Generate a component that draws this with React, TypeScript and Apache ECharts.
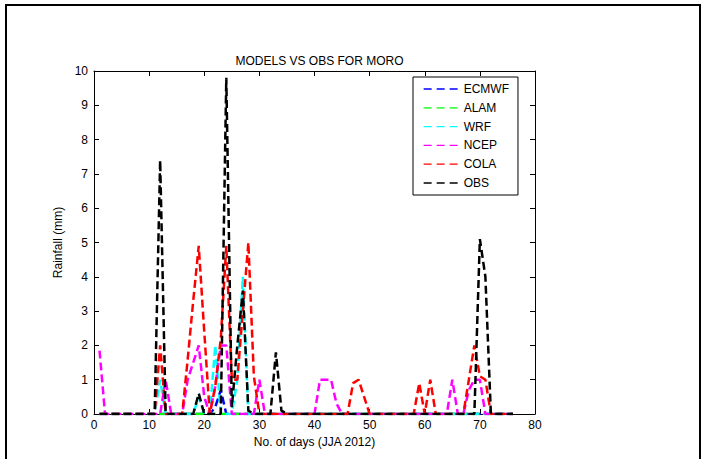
import React, { useEffect, useRef } from "react";
import * as echarts from "echarts";

const days = [
  1, 2, 3, 4, 5, 6, 7, 8, 9, 10, 11, 12, 13, 14, 15, 16, 17, 18, 19, 20,
  21, 22, 23, 24, 25, 26, 27, 28, 29, 30, 31, 32, 33, 34, 35, 36, 37, 38, 39, 40,
  41, 42, 43, 44, 45, 46, 47, 48, 49, 50, 51, 52, 53, 54, 55, 56, 57, 58, 59, 60,
  61, 62, 63, 64, 65, 66, 67, 68, 69, 70, 71, 72, 73, 74, 75, 76,
];

const seriesNames = ["ECMWF", "ALAM", "WRF", "NCEP", "COLA", "OBS"];
const seriesColors = ["#0000ff", "#00ff00", "#00ffff", "#ff00ff", "#ff0000", "#000000"];

// day:           1    2    3    4    5    6    7    8    9   10   11   12   13   14   15   16   17   18   19   20
const ecmwf = [   0,   0,   0,   0,   0,   0,   0,   0,   0,   0,   0,   0,   0,   0,   0,   0,   0,   0,   0,   0,
                  0, 0.2, 0.7,   0,   0,   0,   0,   0,   0,   0,   0,   0,   0,   0,   0,   0,   0,   0,   0,   0,
                  0,   0,   0,   0,   0,   0,   0,   0,   0,   0,   0,   0,   0,   0,   0,   0,   0,   0,   0,   0,
                  0,   0,   0,   0,   0,   0,   0,   0,   0,   0,   0,   0,   0,   0,   0,   0];
const alam = [    0,   0,   0,   0,   0,   0,   0,   0,   0,   0,   0,   0,   0,   0,   0,   0,   0,   0,   0,   0,
                  0,   0,   0,   0,   0,   0,   0,   0,   0,   0,   0,   0,   0,   0,   0,   0,   0,   0,   0,   0,
                  0,   0,   0,   0,   0,   0,   0,   0,   0,   0,   0,   0,   0,   0,   0,   0,   0,   0,   0,   0,
                  0,   0,   0,   0,   0,   0,   0,   0,   0,   0,   0,   0,   0,   0,   0,   0];
const wrf = [     0,   0,   0,   0,   0,   0,   0,   0,   0,   0,   0, 1.0,   0,   0,   0,   0,   0,   0, 0.5,   0,
                  0, 2.0,   0,   0,   0, 1.0, 4.0,   0,   0,   0,   0,   0,   0,   0,   0,   0,   0,   0,   0,   0,
                  0,   0,   0,   0,   0,   0,   0,   0,   0,   0,   0,   0,   0,   0,   0,   0,   0,   0,   0,   0,
                  0,   0,   0,   0,   0,   0,   0,   0,   0,   0,   0,   0,   0,   0,   0,   0];
const ncep = [ 1.85,   0,   0,   0,   0,   0,   0,   0,   0,   0,   0,   0, 1.0,   0,   0,   0, 1.0, 1.5, 2.0, 0.5,
                  0, 0.8, 2.0, 2.0,   0,   0,   0,   0,   0, 1.0,   0,   0,   0,   0,   0,   0,   0,   0,   0,   0,
                1.0, 1.0, 1.0, 0.3,   0,   0,   0,   0,   0,   0,   0,   0,   0,   0,   0,   0,   0,   0,   0,   0,
                  0,   0,   0,   0, 1.0,   0,   0, 0.7, 1.0, 1.0,   0,   0,   0,   0,   0,   0];
const cola = [    0,   0,   0,   0,   0,   0,   0,   0,   0,   0,   0, 2.0,   0,   0,   0,   0, 1.6, 3.3, 4.9, 2.4,
                  0, 0.8, 2.2, 4.9, 1.0, 1.0, 3.0, 5.0, 1.1,   0,   0,   0,   0,   0,   0,   0,   0,   0,   0,   0,
                  0,   0,   0,   0,   0,   0, 0.9, 1.0, 0.5,   0,   0,   0,   0,   0,   0,   0,   0,   0, 0.9,   0,
                1.0,   0,   0,   0,   0,   0,   0, 1.0, 2.0, 1.1, 1.0,   0,   0,   0,   0,   0];
const obs = [     0,   0,   0,   0,   0,   0,   0,   0,   0,   0,   0, 7.4,   0,   0,   0,   0,   0,   0, 0.6,   0,
                  0,   0,   0, 9.8, 0.2, 2.0, 3.6, 0.1,   0,   0,   0,   0, 1.8, 0.1,   0,   0,   0,   0,   0,   0,
                  0,   0,   0,   0,   0,   0,   0,   0,   0,   0,   0,   0,   0,   0,   0,   0,   0,   0,   0,   0,
                  0,   0,   0,   0,   0,   0,   0,   0,   0, 5.1, 4.0,   0,   0,   0,   0,   0];

const seriesValues = [ecmwf, alam, wrf, ncep, cola, obs];

const FONT = "'Liberation Sans', Arial, Helvetica, sans-serif";

export default function App() {
  const ref = useRef<HTMLDivElement>(null);

  useEffect(() => {
    if (!ref.current) return;
    const chart = echarts.init(ref.current, undefined, { renderer: "svg" });

    const axisCommon = {
      axisLine: { show: true, onZero: false, lineStyle: { color: "#000", width: 1 } },
      axisTick: { show: true, inside: true, length: 5, lineStyle: { color: "#000", width: 1 } },
      splitLine: { show: false },
    };

    chart.setOption({
      animation: false,
      backgroundColor: "#ffffff",
      textStyle: { fontFamily: FONT },
      title: {
        text: "MODELS VS OBS FOR MORO",
        left: 314.5,
        top: 50,
        textAlign: "center",
        textStyle: { fontSize: 12, fontWeight: "normal", color: "#000", fontFamily: FONT },
      },
      grid: { left: 94, right: 169, top: 71, bottom: 45, containLabel: false },
      legend: {
        orient: "vertical",
        left: 413,
        top: 77,
        itemWidth: 37,
        itemHeight: 14,
        itemGap: 4.8,
        padding: [5, 9, 5, 10],
        backgroundColor: "#fff",
        borderColor: "#000",
        borderWidth: 1,
        borderRadius: 0,
        itemStyle: { color: "rgba(0,0,0,0)", borderWidth: 0, opacity: 0 },
        lineStyle: { width: 1.3, type: [8, 5] },
        textStyle: { fontSize: 12, color: "#000", fontFamily: FONT, lineHeight: 14, padding: [0, 0, 0, -2] },
        data: seriesNames,
      },
      xAxis: [
        {
          type: "value",
          position: "bottom",
          min: 0,
          max: 80,
          interval: 10,
          ...axisCommon,
          axisLabel: { color: "#000", fontSize: 12, margin: 5, fontFamily: FONT },
          name: "No. of days (JJA 2012)",
          nameLocation: "middle",
          nameGap: 22,
          nameTextStyle: { color: "#000", fontSize: 12, fontFamily: FONT },
        },
        {
          type: "value",
          position: "top",
          min: 0,
          max: 80,
          interval: 10,
          ...axisCommon,
          axisLabel: { show: false },
        },
      ],
      yAxis: [
        {
          type: "value",
          position: "left",
          min: 0,
          max: 10,
          interval: 1,
          ...axisCommon,
          axisLabel: { color: "#000", fontSize: 12, margin: 6, fontFamily: FONT },
          name: "Rainfall (mm)",
          nameLocation: "middle",
          nameGap: 25,
          nameTextStyle: { color: "#000", fontSize: 12, fontFamily: FONT },
        },
        {
          type: "value",
          position: "right",
          min: 0,
          max: 10,
          interval: 1,
          ...axisCommon,
          axisLabel: { show: false },
        },
      ],
      series: seriesNames.map((name, k) => ({
        name,
        type: "line",
        xAxisIndex: 0,
        yAxisIndex: 0,
        symbol: "none",
        data: days.map((d, i) => [d, seriesValues[k][i]]),
        lineStyle: { color: seriesColors[k], width: 2.5, type: [8, 4] },
        itemStyle: { color: seriesColors[k] },
      })),
      graphic: [
        { type: "line", shape: { x1: 5, y1: 5, x2: 701, y2: 5 }, style: { stroke: "#000", lineWidth: 2 } },
        { type: "line", shape: { x1: 6, y1: 5, x2: 6, y2: 459 }, style: { stroke: "#000", lineWidth: 2 } },
        { type: "line", shape: { x1: 700, y1: 5, x2: 700, y2: 459 }, style: { stroke: "#000", lineWidth: 2 } },
      ],
    });

    return () => {
      chart.dispose();
    };
  }, []);

  return (
    <div
      ref={ref}
      style={{ position: "absolute", left: 0, top: 0, width: 704, height: 459 }}
    />
  );
}
